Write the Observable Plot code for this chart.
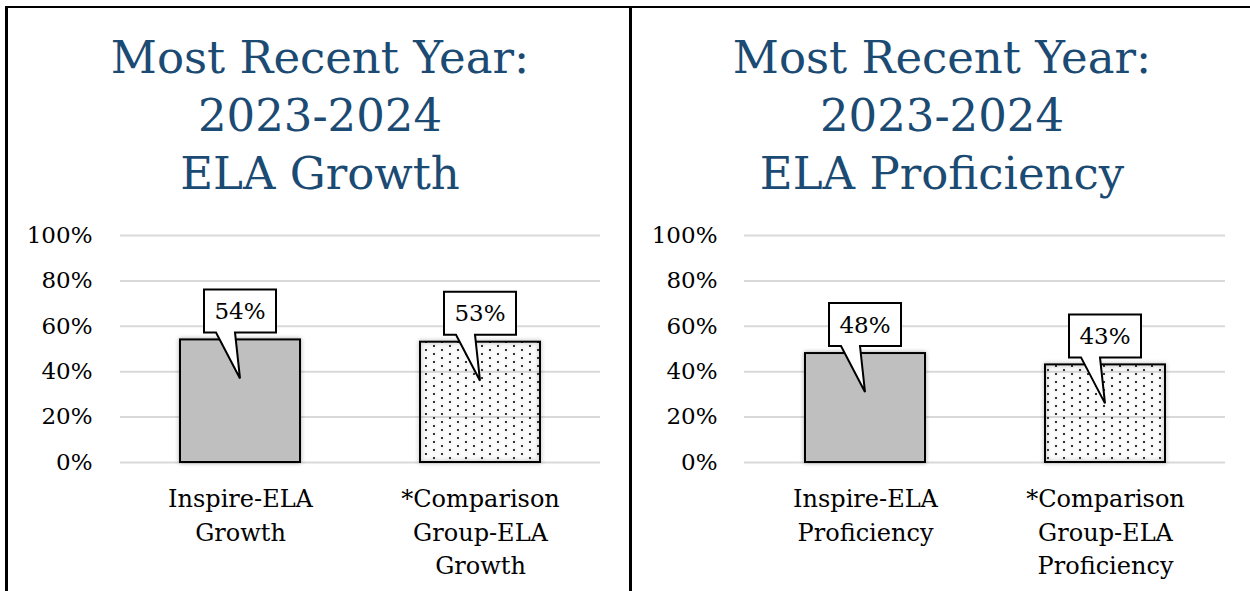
<!DOCTYPE html>
<html><head><meta charset="utf-8">
<script src="https://cdn.jsdelivr.net/npm/d3@7"></script>
<script src="https://cdn.jsdelivr.net/npm/@observablehq/plot@0.6"></script>
<style>
body{margin:0;background:#fff;}
#wrap{position:relative;width:1250px;height:591px;overflow:hidden;font-family:"DejaVu Serif",serif;}
.line{position:absolute;background:#000;}
.title{position:absolute;top:29px;text-align:center;color:#1b4a73;font-size:45px;line-height:58px;font-family:"DejaVu Serif",serif;}
.chart{position:absolute;top:200px;}
</style></head>
<body>
<div id="wrap">
<svg width="0" height="0" style="position:absolute"><defs><pattern id="dots" patternUnits="userSpaceOnUse" width="16" height="8"><rect x="1" y="1" width="2" height="2" fill="#333"/><rect x="9" y="5" width="2" height="2" fill="#333"/></pattern></defs></svg>
<div class="line" style="left:5px;top:6px;width:1245px;height:2px"></div>
<div class="line" style="left:5px;top:6px;width:3px;height:585px"></div>
<div class="line" style="left:629px;top:6px;width:3px;height:585px"></div>
<div id="t1" class="title" style="left:8px;width:624px"></div>
<div id="t2" class="title" style="left:632px;width:620px"></div>
<div id="c1" class="chart" style="left:0px"></div>
<div id="c2" class="chart" style="left:630px"></div>
</div>
<script>
const growthCategories = ["Inspire-ELA Growth", "*Comparison Group-ELA Growth"];
const growthLabels = ["Inspire-ELA\nGrowth", "*Comparison\nGroup-ELA\nGrowth"];
const growthValues = [0.54, 0.53];
const profCategories = ["Inspire-ELA Proficiency", "*Comparison Group-ELA Proficiency"];
const profLabels = ["Inspire-ELA\nProficiency", "*Comparison\nGroup-ELA\nProficiency"];
const profValues = [0.48, 0.43];
const barFills = ["#bfbfbf", "url(#dots)"];
const yTicks = [0, 0.2, 0.4, 0.6, 0.8, 1];
const growthTitle = ["Most Recent Year:", "2023-2024", "ELA Growth"];
const profTitle = ["Most Recent Year:", "2023-2024", "ELA Proficiency"];

const pct = d3.format(".0%");

function callouts(rows) {
  return (index, scales) => {
    const g = d3.create("svg:g");
    const bw = scales.x.bandwidth ? scales.x.bandwidth() : 0;
    for (const d of rows) {
      const cx = scales.x(d.cat) + bw / 2;
      const top = scales.y(d.value);
      const bottom = top - 7, boxTop = bottom - 43;
      const path = `M${cx-36},${boxTop}H${cx+36}V${bottom}H${cx-5}L${cx},${bottom+46}L${cx-24},${bottom}H${cx-36}Z`;
      g.append("path").attr("d", path).attr("fill", "#fff").attr("stroke", "#000").attr("stroke-width", 2).attr("stroke-linejoin", "miter");
      g.append("text").attr("x", cx).attr("y", boxTop + 21.5).attr("dy", "0.36em")
        .attr("text-anchor", "middle").attr("font-size", 23).attr("fill", "#000")
        .attr("font-family", "DejaVu Serif").text(pct(d.value));
    }
    return g.node();
  };
}

function makeChart(el, titleEl, title, categories, labels, values, width, ml, mr, tp) {
  document.getElementById(titleEl).innerHTML = title.join("<br>");
  const rows = categories.map((c, i) => ({cat: c, value: values[i], fill: barFills[i]}));
  const chart = Plot.plot({
    width, height: 391,
    marginLeft: ml, marginRight: mr, marginTop: 35, marginBottom: 129,
    style: {fontFamily: "DejaVu Serif", fontSize: "23px", color: "#000", background: "transparent", overflow: "visible"},
    x: {domain: categories, paddingInner: 0.5, paddingOuter: 0.25},
    y: {domain: [0, 1]},
    color: {type: "identity"},
    marks: [
      Plot.gridY({ticks: yTicks, stroke: "#d9d9d9", strokeOpacity: 1, strokeWidth: 2}),
      Plot.axisY({ticks: yTicks, tickFormat: pct, tickSize: 0, tickPadding: tp, fontSize: 23, label: null}),
      Plot.axisX({tickSize: 0, tickPadding: 21, fontSize: 24, lineHeight: 1.39, label: null,
        tickFormat: d => labels[categories.indexOf(d)]}),
      Plot.barY(rows, {x: "cat", y: "value", fill: "fill", stroke: "#000", strokeWidth: 2}),
      callouts(rows)
    ]
  });
  chart.querySelectorAll('g[aria-label="bar"] rect').forEach(r => r.style.filter = "drop-shadow(0px 0px 2px rgba(0,0,0,0.35))");
  document.getElementById(el).appendChild(chart);
}

makeChart("c1", "t1", growthTitle, growthCategories, growthLabels, growthValues, 630, 120, 30, 28);
makeChart("c2", "t2", profTitle, profCategories, profLabels, profValues, 620, 114, 25, 27);
</script>
</body></html>
